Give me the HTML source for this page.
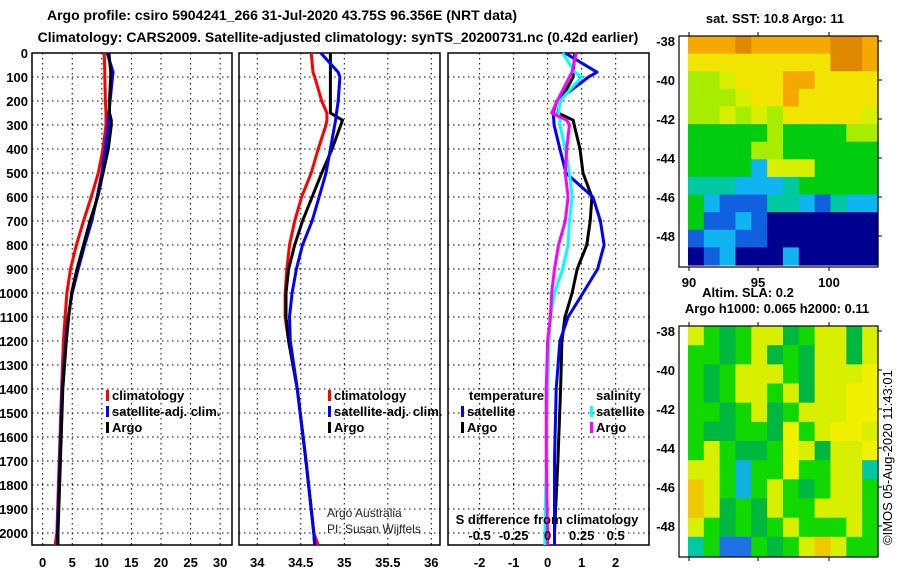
<!DOCTYPE html>
<html><head><meta charset="utf-8"><style>
body{margin:0;background:#fff;width:900px;height:580px;overflow:hidden}
svg{font-family:"Liberation Sans",sans-serif}
.b{font-weight:bold}
</style></head><body>
<svg id="s" width="900" height="580" xmlns="http://www.w3.org/2000/svg">
<text x="282" y="20" text-anchor="middle" font-size="14" class="b">Argo profile: csiro 5904241_266 31-Jul-2020 43.75S 96.356E (NRT data)</text>
<text x="338" y="42" text-anchor="middle" font-size="14" class="b">Climatology: CARS2009. Satellite-adjusted climatology: synTS_20200731.nc (0.42d earlier)</text>
<g id="g"></g>
</svg>
<script>
// ---- data ----
const depthTicks=[0,100,200,300,400,500,600,700,800,900,1000,1100,1200,1300,1400,1500,1600,1700,1800,1900,2000];
const tTicks=[0,5,10,15,20,25,30];
const sTicks=[34,34.5,35,35.5,36];
const dTicks=[-2,-1,0,1,2];
const sdTicks=[-0.5,-0.25,0,0.25,0.5];
const sdTickLabels=["-0.5","-0.25","0","0.25","0.5"];
const depths=[0,80,100,200,250,280,300,400,500,600,700,800,900,1000,1100,1200,1400,1700,2000,2050];
const tClim=[10.4,10.5,10.5,10.6,10.7,10.7,10.7,10.2,9.4,8.2,6.9,5.7,4.7,4.1,3.8,3.5,3.2,2.8,2.4,2.1];
const tSat=[10.9,11.9,11.8,11.4,11.2,11.1,11.1,10.6,10.0,9.2,8.3,7.1,6.0,5.0,4.3,3.9,3.3,2.9,2.5,2.5];
const tArgo=[11.2,11.5,11.5,11.3,11.3,11.6,11.6,11.1,10.2,9.3,8.0,6.9,5.8,4.9,4.4,4.0,3.4,3.0,2.6,2.6];
const sClim=[34.62,34.64,34.66,34.74,34.8,34.8,34.79,34.7,34.62,34.51,34.43,34.37,34.34,34.32,34.32,34.36,34.46,34.56,34.65,34.7];
const sSat=[34.73,34.93,34.95,34.93,34.91,34.9,34.89,34.84,34.79,34.71,34.63,34.52,34.45,34.4,34.37,34.38,34.46,34.56,34.65,34.66];
const sArgo=[34.84,34.84,34.84,34.84,34.84,34.98,34.96,34.86,34.74,34.63,34.52,34.43,34.36,34.33,34.33,34.36,34.46,34.56,34.65,34.66];
const dTSat=[0.51,1.45,1.2,0.27,0.16,0.18,0.19,0.36,0.54,1.33,1.55,1.66,1.47,1.04,0.6,0.36,0.25,0.2,0.2,0.2];
const dTArgo=[0.8,0.75,0.75,0.37,0.3,0.75,0.78,0.95,1.04,1.3,1.25,1.15,0.87,0.72,0.51,0.42,0.38,0.3,0.2,0.2];
const dSSat=[0.11,0.2,0.25,0.09,0.08,0.09,0.09,0.13,0.16,0.18,0.16,0.15,0.11,0.05,0.02,0.01,0,-0.01,-0.02,-0.02];
const dSArgo=[0.21,0.18,0.16,0.07,0.03,0.14,0.16,0.14,0.13,0.15,0.13,0.08,0.05,0.03,0.02,0,-0.01,-0.01,0,0];
const sstGrid=["oooOoooooOOo","yyyyyyyyyOOo","llYyyyooyyyy","lllYyyoyyyyy","llYlYlyyyyyY","ggggglggggll","ggggllgggggg","ggggcYYYgggg","tttccctggggg","gcbbbttcbtcc","gbbcbnnnnnnn","bccbbnnnnnnn","nbcnnncnnnnn"];
const slaGrid=["ygGgyyGgyyGy","ggGgyGgGyyGy","gGgyyygGyyyY","gGgyygyGyyYY","ggGgyGgyyyYY","gGGggGYgyYYy","gygGGgYyGyyY","yygcggYggyyt","oygcgygGgyyg","oyGgGyggyyyg","ygGgGgygggyg","tgbbgGgyoygg"];
const sstCols={o:"#f4a800",O:"#e08800",y:"#f0e400",Y:"#d8f000",l:"#a8ec00",g:"#00cc10",t:"#00c8a0",c:"#10b4f0",b:"#1060e0",n:"#000090"};
const slaCols={o:"#f0c800",y:"#d8f000",Y:"#f0f000",g:"#10d800",G:"#00b840",t:"#00c8a0",c:"#10b0e0",b:"#2070e8"};

// ---- helpers ----
const NS="http://www.w3.org/2000/svg",G=document.getElementById('g');
function mk(t,a,txt){const e=document.createElementNS(NS,t);for(const k in a)e.setAttribute(k,a[k]);if(txt!==undefined)e.textContent=txt;G.appendChild(e);return e;}
const Y0=53,Y1=545,D1=2050;
const yD=d=>Y0+(Y1-Y0)*d/D1;
const panels=[
 {x0:32,x1:232,v0:-1.8,v1:32,ticks:tTicks,name:'temperature'},
 {x0:239,x1:440,v0:33.79,v1:36.1,ticks:sTicks,name:'salinity'},
 {x0:448,x1:649,v0:-2.93,v1:2.98,ticks:dTicks,name:'difference'}];
panels.forEach((p,i)=>{p.f=v=>p.x0+(p.x1-p.x0)*(v-p.v0)/(p.v1-p.v0);
 depthTicks.forEach(d=>{const l=mk('line',{x1:p.x0,x2:p.x1,y1:yD(d),y2:yD(d),stroke:'#000','stroke-dasharray':'1.5,3.5','stroke-width':1});
  
  if(i==0){const t=mk('text',{x:28,y:yD(d)+5,'text-anchor':'end','font-size':13,'font-weight':'bold'},String(d));
   }});
 p.ticks.forEach(v=>{const x=p.f(v);const l=mk('line',{x1:x,x2:x,y1:Y0,y2:Y1,stroke:'#000','stroke-dasharray':'1.5,3.5','stroke-width':1});
  
  const t=mk('text',{x:x,y:567,'text-anchor':'middle','font-size':13,'font-weight':'bold'},String(v));
  });
 const r=mk('rect',{x:p.x0,y:Y0,width:p.x1-p.x0,height:Y1-Y0,fill:'none',stroke:'#000','stroke-width':1.5});
 
});
function line(p,vals,col,name,scale){const pts=vals.map((v,k)=>p.f(v*(scale||1)).toFixed(1)+','+yD(depths[k]).toFixed(1)).join(' ');
 const e=mk('polyline',{points:pts,fill:'none',stroke:col,'stroke-width':3,'stroke-linejoin':'round'});
 }
line(panels[0],tClim,'#ff0000','temp-climatology-line');
line(panels[0],tSat,'#0000ff','temp-satellite-line');
line(panels[0],tArgo,'#000','temp-argo-line');
line(panels[1],sClim,'#ff0000','sal-climatology-line');
line(panels[1],sArgo,'#000','sal-argo-line');
line(panels[1],sSat,'#0000ff','sal-satellite-line');
line(panels[2],dTArgo,'#000','tdiff-argo-line');
line(panels[2],dTSat,'#0000ff','tdiff-satellite-line');
line(panels[2],dSSat,'#00ffff','sdiff-satellite-line',4);
line(panels[2],dSArgo,'#ff00ff','sdiff-argo-line',4);
// S difference ticks
sdTicks.forEach((v,k)=>{const t=mk('text',{x:panels[2].f(v*4),y:540,'text-anchor':'middle','font-size':13,'font-weight':'bold'},sdTickLabels[k]);
 });
const sdt=mk('text',{x:547,y:524,'text-anchor':'middle','font-size':13,'font-weight':'bold'},'S difference from climatology');

// legends
function leg(x,y,col,txt){const r=mk('rect',{x:x,y:y-10,width:3,height:11,fill:col});
 const t=mk('text',{x:x+6,y:y,'font-size':13,'font-weight':'bold'},txt);}
[[106,'climatology','#ff0000',400],[106,'satellite-adj. clim.','#0000ff',416],[106,'Argo','#000',432],
 [328,'climatology','#ff0000',400],[328,'satellite-adj. clim.','#0000ff',416],[328,'Argo','#000',432],
 [461,'satellite','#0000ff',416],[461,'Argo','#000',432],[590,'satellite','#00ffff',416],[590,'Argo','#ff00ff',432]].forEach(a=>leg(a[0],a[3],a[2],a[1]));
let t=mk('text',{x:469,y:400,'font-size':13,'font-weight':'bold'},'temperature');
t=mk('text',{x:596,y:400,'font-size':13,'font-weight':'bold'},'salinity');
t=mk('text',{x:327,y:517,'font-size':12,fill:'#222'},'Argo Australia');
t=mk('text',{x:327,y:533,'font-size':12,fill:'#222'},'PI: Susan Wijffels');
// maps
function map(grid,cols,x0,y0,x1,y1,fx,fy,name){const rows=grid.length,nc=grid[0].length;const w=(x1-x0)/nc,h=(y1-y0)/rows;
 grid.forEach((row,r)=>{for(let c=0;c<nc;c++){const e=mk('rect',{x:x0+c*w,y:y0+r*h,width:w+0.6,height:h+0.6,fill:cols[row[c]]});
  }});
 const fr=mk('rect',{x:fx,y:y0,width:x1-fx,height:fy-y0,fill:'none',stroke:'#000','stroke-width':1.2});
 [-38,-40,-42,-44,-46,-48].forEach(lat=>{const y=y0+5+(lat+38)/-10*195;
  const l=mk('text',{x:675,y:y+5,'text-anchor':'end','font-size':13,'font-weight':'bold'},String(lat));
  const k=mk('line',{x1:x1,x2:x1+4,y1:y,y2:y,stroke:'#000'});});
 [689,758,829].forEach(x=>{const k=mk('line',{x1:x,x2:x,y1:fy,y2:fy+4,stroke:'#000'});
  const k2=mk('line',{x1:x,x2:x,y1:y0-4,y2:y0,stroke:'#000'});});}
map(sstGrid,sstCols,688,36,878,265,679,267,'sst-map');
map(slaGrid,slaCols,688,326,878,556,679,557,'sla-map');
[[90,689],[95,758],[100,829]].forEach(a=>{const e=mk('text',{x:a[1],y:287,'text-anchor':'middle','font-size':13,'font-weight':'bold'},String(a[0]));});
t=mk('text',{x:775,y:23,'text-anchor':'middle','font-size':13,'font-weight':'bold'},'sat. SST: 10.8 Argo: 11');
t=mk('text',{x:748,y:297,'text-anchor':'middle','font-size':13,'font-weight':'bold'},'Altim. SLA: 0.2');
t=mk('text',{x:777,y:313,'text-anchor':'middle','font-size':13,'font-weight':'bold'},'Argo h1000: 0.065 h2000: 0.11');
t=mk('text',{x:0,y:0,'font-size':13,transform:'translate(892,545) rotate(-90)'},'©IMOS 05-Aug-2020 11:43:01');
</script>
</body></html>
